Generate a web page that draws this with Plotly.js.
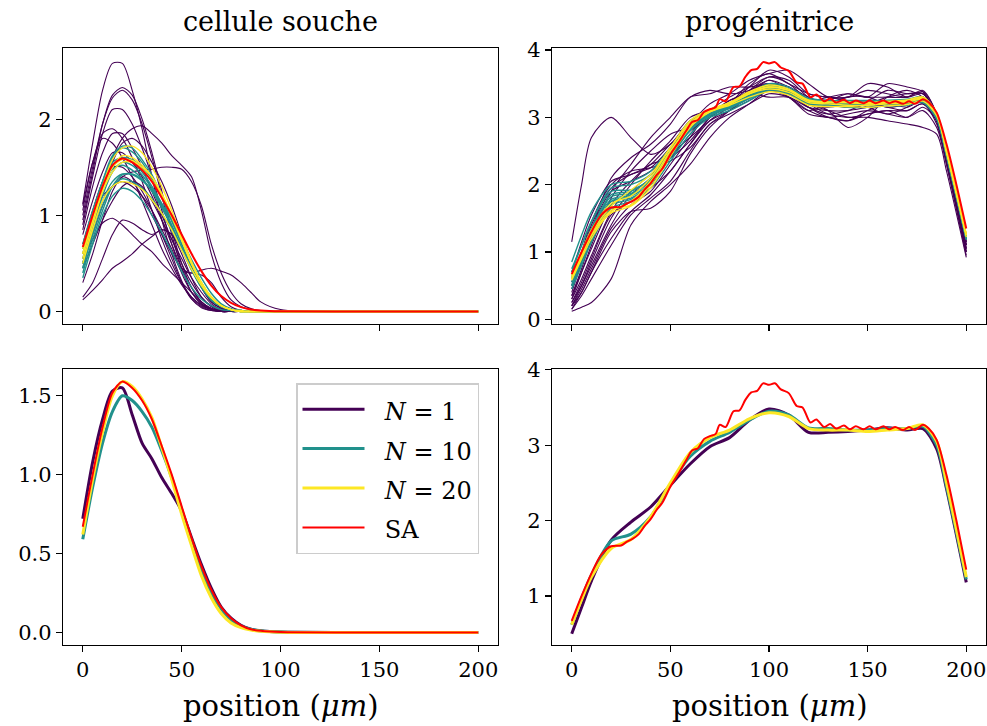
<!DOCTYPE html>
<html>
<head>
<meta charset="utf-8">
<script src="https://cdn.plot.ly/plotly-3.0.1.min.js"></script>
<style>html,body{margin:0;padding:0;background:#fff;}#plot{width:987px;height:726px;}</style>
</head>
<body>
<div id="plot"></div>
<script>
// ---------- x grids ----------
const XL = [0,5,10,15,20,25,30,35,40,45,50,55,60,65,70,75,80,85,90,100,150,200];
const XR = [0,5,10,20,30,40,50,60,70,80,90,100,110,120,130,140,150,160,170,178,185,190,200];
const XS = [0,5,10,15,20,25,28,31,34,37,40,43,46,50,54,58,61,64,67,70,73,75,78,82,85,88,91,94,97,100,103,106,110,114,117,121,124,128,131,134,138,141,144,148,151,154,158,161,164,168,171,174,178,181,185,190,195,200];

// ---------- cellule souche : individual runs N = 1 ----------
const souche_N1 = [
 [1.12,1.75,2.3,2.58,2.58,2.3,1.9,1.4,0.95,0.6,0.32,0.13,0.04,0.01,0,0,0,0,0,0,0,0],
 [0.95,1.45,1.95,2.25,2.33,2.25,2.0,1.65,1.25,0.85,0.5,0.25,0.1,0.03,0.01,0,0,0,0,0,0,0],
 [1.0,1.5,1.95,2.22,2.3,2.2,1.95,1.6,1.2,0.8,0.45,0.2,0.08,0.02,0,0,0,0,0,0,0,0],
 [0.9,1.4,1.85,2.1,2.1,1.95,1.7,1.4,1.05,0.7,0.4,0.2,0.08,0.03,0.01,0,0,0,0,0,0,0],
 [0.6,0.95,1.3,1.6,1.8,1.9,1.93,1.85,1.75,1.62,1.52,1.4,1.05,0.6,0.3,0.12,0.05,0.02,0,0,0,0],
 [0.5,0.85,1.2,1.3,1.4,1.45,1.47,1.48,1.5,1.5,1.48,1.35,1.1,0.7,0.4,0.2,0.08,0.03,0.01,0,0,0],
 [1.05,1.55,1.85,1.9,1.8,1.6,1.35,1.05,0.75,0.5,0.3,0.15,0.06,0.02,0,0,0,0,0,0,0,0],
 [0.85,1.3,1.65,1.85,1.85,1.7,1.5,1.25,1.0,0.75,0.5,0.3,0.15,0.06,0.02,0,0,0,0,0,0,0],
 [1.1,1.55,1.8,1.75,1.6,1.4,1.15,0.9,0.65,0.45,0.28,0.15,0.07,0.02,0,0,0,0,0,0,0,0],
 [0.3,0.6,0.95,1.25,1.4,1.35,1.2,1.0,0.8,0.6,0.45,0.4,0.43,0.45,0.42,0.38,0.3,0.2,0.1,0.02,0,0],
 [0.12,0.22,0.33,0.45,0.52,0.6,0.7,0.78,0.85,0.8,0.65,0.45,0.25,0.1,0.04,0.01,0,0,0,0,0,0],
 [0.15,0.3,0.55,0.8,0.95,0.92,0.85,0.8,0.85,0.8,0.6,0.35,0.15,0.05,0.01,0,0,0,0,0,0,0],
 [0.55,0.75,0.92,0.97,0.9,0.8,0.7,0.62,0.5,0.4,0.3,0.2,0.1,0.03,0,0,0,0,0,0,0,0],
 [0.5,0.8,1.1,1.3,1.35,1.3,1.2,1.05,0.85,0.65,0.42,0.4,0.38,0.3,0.15,0.05,0.01,0,0,0,0,0],
 [0.7,1.05,1.35,1.5,1.5,1.4,1.25,1.05,0.8,0.55,0.3,0.13,0.05,0.01,0,0,0,0,0,0,0,0],
 [0.8,1.15,1.45,1.65,1.65,1.55,1.4,1.2,0.95,0.7,0.45,0.25,0.1,0.03,0,0,0,0,0,0,0,0],
 [0.6,0.95,1.3,1.55,1.75,1.8,1.72,1.55,1.35,1.1,0.8,0.5,0.25,0.1,0.03,0,0,0,0,0,0,0],
 [0.45,0.7,0.95,1.15,1.3,1.35,1.3,1.15,0.95,0.75,0.55,0.35,0.2,0.08,0.02,0,0,0,0,0,0,0]
];
// ---------- cellule souche : runs N = 10 ----------
const souche_N10 = [
 [0.35,0.7,1.0,1.2,1.28,1.25,1.15,1.0,0.82,0.62,0.42,0.25,0.13,0.06,0.02,0.01,0,0,0,0,0,0],
 [0.45,0.85,1.2,1.45,1.55,1.52,1.42,1.28,1.1,0.88,0.65,0.43,0.25,0.12,0.05,0.02,0.01,0,0,0,0,0],
 [0.55,0.95,1.35,1.62,1.72,1.7,1.58,1.42,1.2,0.95,0.7,0.45,0.26,0.12,0.05,0.02,0.01,0,0,0,0,0],
 [0.5,0.9,1.25,1.5,1.6,1.58,1.5,1.38,1.2,0.98,0.74,0.5,0.3,0.15,0.06,0.02,0.01,0,0,0,0,0],
 [0.6,1.0,1.3,1.48,1.52,1.47,1.38,1.25,1.08,0.88,0.66,0.45,0.27,0.14,0.06,0.02,0.01,0,0,0,0,0],
 [0.4,0.75,1.05,1.3,1.42,1.43,1.37,1.25,1.08,0.88,0.66,0.45,0.27,0.13,0.05,0.02,0,0,0,0,0,0],
 [0.7,1.05,1.35,1.55,1.6,1.55,1.45,1.3,1.12,0.9,0.66,0.44,0.25,0.12,0.05,0.02,0,0,0,0,0,0],
 [0.5,0.85,1.15,1.35,1.43,1.42,1.36,1.26,1.12,0.95,0.75,0.54,0.35,0.19,0.08,0.03,0.01,0,0,0,0,0],
 [0.65,1.0,1.35,1.6,1.7,1.66,1.55,1.38,1.18,0.94,0.7,0.47,0.28,0.14,0.06,0.02,0,0,0,0,0,0],
 [0.45,0.8,1.1,1.3,1.38,1.35,1.28,1.17,1.02,0.84,0.64,0.45,0.28,0.14,0.06,0.02,0,0,0,0,0,0]
];
// ---------- cellule souche : runs N = 20 ----------
const souche_N20 = [
 [0.55,0.9,1.25,1.5,1.62,1.6,1.52,1.4,1.22,1.0,0.75,0.5,0.3,0.15,0.06,0.02,0.01,0,0,0,0,0],
 [0.6,0.95,1.3,1.58,1.7,1.72,1.65,1.5,1.3,1.05,0.78,0.52,0.3,0.15,0.06,0.02,0,0,0,0,0,0],
 [0.5,0.85,1.15,1.3,1.35,1.33,1.27,1.16,1.02,0.85,0.64,0.44,0.27,0.14,0.06,0.02,0,0,0,0,0,0],
 [0.6,0.95,1.25,1.45,1.55,1.55,1.48,1.36,1.2,0.98,0.74,0.5,0.3,0.15,0.06,0.02,0,0,0,0,0,0],
 [0.65,1.0,1.3,1.5,1.58,1.57,1.5,1.4,1.22,1.0,0.75,0.5,0.3,0.15,0.06,0.02,0,0,0,0,0,0]
];
// ---------- cellule souche : means & SA ----------
const souche_mean_N1  = [0.72,1.08,1.35,1.53,1.55,1.38,1.2,1.1,0.98,0.88,0.77,0.6,0.43,0.28,0.16,0.09,0.045,0.02,0.01,0.002,0,0];
const souche_mean_N10 = [0.59,0.92,1.2,1.4,1.5,1.47,1.4,1.3,1.15,0.98,0.78,0.58,0.4,0.25,0.15,0.08,0.04,0.02,0.01,0.002,0,0];
const souche_mean_N20 = [0.62,0.97,1.27,1.5,1.59,1.56,1.48,1.36,1.17,0.97,0.75,0.55,0.36,0.22,0.12,0.06,0.03,0.015,0.007,0.001,0,0];
const souche_SA       = [0.67,1.0,1.3,1.52,1.59,1.55,1.47,1.35,1.18,1.0,0.8,0.6,0.42,0.27,0.16,0.09,0.045,0.02,0.01,0.002,0,0];

// ---------- progénitrice : runs N = 1 ----------
const prog_N1 = [
 [1.15,2.0,2.7,3.0,2.7,2.45,2.6,2.95,3.1,3.2,3.4,3.5,3.45,3.3,3.2,3.15,3.2,3.3,3.35,3.35,3.0,2.4,1.1],
 [0.12,0.18,0.25,0.6,1.4,1.75,2.0,2.3,2.7,3.0,3.2,3.4,3.35,3.15,3.05,3.1,3.2,3.15,3.1,3.2,2.9,2.3,1.0],
 [0.15,0.4,0.7,1.3,1.6,1.65,1.9,2.45,2.85,3.1,3.3,3.45,3.4,3.2,3.1,3.0,3.05,3.1,3.0,3.1,2.85,2.3,0.95],
 [0.3,0.7,1.1,1.8,2.2,2.5,2.75,2.85,3.0,3.2,3.5,3.65,3.5,3.35,3.3,3.3,3.4,3.35,3.3,3.38,3.05,2.4,1.05],
 [0.2,0.5,0.85,1.5,1.9,2.15,2.4,2.75,3.1,3.3,3.45,3.6,3.5,3.25,3.1,2.85,3.0,3.3,3.4,3.3,3.0,2.45,1.15],
 [0.35,0.75,1.2,1.9,2.3,2.7,3.0,3.3,3.35,3.45,3.45,3.5,3.3,3.1,3.2,3.3,3.3,3.2,3.25,3.3,2.95,2.4,1.1],
 [0.5,0.95,1.4,1.95,2.15,2.25,2.55,2.9,3.2,3.35,3.55,3.65,3.7,3.5,3.3,3.3,3.5,3.45,3.3,3.35,3.0,2.45,1.2],
 [0.25,0.55,0.9,1.55,1.75,1.95,2.2,2.6,2.95,3.15,3.3,3.4,3.3,3.05,3.0,2.95,3.05,3.1,3.1,3.2,2.95,2.35,1.0],
 [0.2,0.45,0.75,1.35,1.7,1.9,2.3,2.7,3.1,3.2,3.35,3.5,3.4,3.2,3.05,3.0,3.0,2.95,2.9,2.85,2.75,2.2,0.92],
 [0.4,0.85,1.3,2.1,2.4,2.6,2.9,3.3,3.4,3.35,3.4,3.55,3.4,3.2,3.15,3.2,3.25,3.15,3.2,3.3,3.0,2.4,1.15],
 [0.15,0.35,0.6,1.1,1.55,1.8,2.05,2.5,2.9,3.05,3.2,3.35,3.3,3.1,3.0,3.05,3.1,3.05,3.0,3.15,2.95,2.35,1.05],
 [0.3,0.6,0.95,1.6,2.0,2.35,2.65,3.0,3.1,3.15,3.35,3.55,3.45,3.25,3.3,3.35,3.3,3.5,3.45,3.38,3.0,2.4,1.2],
 [0.55,1.0,1.45,2.0,2.2,2.25,2.35,2.55,2.9,3.1,3.3,3.4,3.35,3.15,3.0,2.95,3.1,3.2,3.15,3.25,2.95,2.4,1.1],
 [0.25,0.5,0.8,1.4,1.85,2.1,2.5,2.8,3.0,3.2,3.4,3.6,3.55,3.3,3.2,3.25,3.15,3.05,3.15,3.3,3.0,2.4,1.0],
 [0.7,1.15,1.55,2.05,2.15,2.3,2.6,2.85,3.05,3.25,3.35,3.5,3.45,3.25,3.25,3.35,3.3,3.3,3.3,3.4,3.05,2.45,1.25],
 [0.35,0.7,1.05,1.7,2.05,2.3,2.4,2.65,3.0,3.2,3.45,3.7,3.6,3.35,3.3,3.25,3.25,3.4,3.35,3.35,3.0,2.45,1.15],
 [0.2,0.4,0.7,1.2,1.6,1.85,2.2,2.6,3.0,3.25,3.35,3.3,3.3,3.15,3.1,3.1,3.15,3.2,3.25,3.3,2.95,2.35,1.05],
 [0.45,0.9,1.35,1.9,2.05,2.2,2.45,2.7,2.95,3.1,3.25,3.4,3.35,3.2,3.25,3.2,3.2,3.25,3.2,3.3,3.0,2.4,1.1]
];
// ---------- progénitrice : runs N = 10 ----------
const prog_N10 = [
 [0.85,1.25,1.6,2.0,2.05,2.2,2.55,2.95,3.1,3.2,3.35,3.5,3.42,3.28,3.25,3.25,3.25,3.25,3.27,3.3,3.05,2.5,1.25],
 [0.5,0.85,1.15,1.65,1.75,1.95,2.35,2.75,3.0,3.1,3.25,3.4,3.35,3.2,3.18,3.15,3.15,3.17,3.18,3.22,2.98,2.42,1.18],
 [0.65,1.0,1.35,1.85,1.9,2.1,2.5,2.9,3.08,3.18,3.32,3.47,3.42,3.27,3.24,3.22,3.22,3.24,3.24,3.27,3.02,2.47,1.22],
 [0.55,0.9,1.25,1.75,1.8,2.0,2.42,2.82,3.03,3.13,3.28,3.43,3.38,3.23,3.2,3.18,3.18,3.2,3.2,3.23,2.98,2.43,1.2],
 [0.7,1.1,1.45,1.95,2.0,2.15,2.5,2.88,3.05,3.15,3.3,3.45,3.4,3.27,3.25,3.23,3.22,3.22,3.23,3.25,3.0,2.45,1.2],
 [0.45,0.8,1.15,1.7,1.78,2.0,2.4,2.8,3.02,3.14,3.3,3.45,3.4,3.24,3.2,3.2,3.2,3.2,3.2,3.24,3.0,2.45,1.22],
 [0.6,0.97,1.32,1.82,1.87,2.05,2.45,2.85,3.05,3.17,3.33,3.5,3.45,3.28,3.25,3.22,3.22,3.25,3.25,3.28,3.02,2.47,1.23],
 [0.75,1.1,1.45,1.9,1.92,2.08,2.48,2.85,3.05,3.15,3.28,3.4,3.35,3.2,3.18,3.18,3.18,3.2,3.2,3.22,2.98,2.43,1.19],
 [0.5,0.88,1.22,1.75,1.83,2.03,2.45,2.86,3.07,3.17,3.32,3.47,3.42,3.26,3.22,3.2,3.2,3.2,3.22,3.25,3.0,2.45,1.2],
 [0.62,0.98,1.33,1.78,1.85,2.07,2.48,2.87,3.06,3.16,3.3,3.42,3.37,3.22,3.2,3.2,3.21,3.23,3.23,3.26,3.01,2.46,1.21]
];
// ---------- progénitrice : runs N = 20 ----------
const prog_N20 = [
 [0.6,0.93,1.25,1.58,1.68,1.95,2.42,2.85,3.08,3.2,3.35,3.45,3.4,3.25,3.22,3.22,3.2,3.22,3.25,3.3,3.07,2.52,1.27],
 [0.65,1.0,1.33,1.72,1.83,2.1,2.55,2.95,3.12,3.22,3.37,3.45,3.4,3.24,3.22,3.22,3.2,3.22,3.24,3.28,3.05,2.5,1.25],
 [0.58,0.9,1.2,1.6,1.75,2.05,2.5,2.88,3.08,3.18,3.3,3.38,3.33,3.18,3.16,3.16,3.15,3.17,3.19,3.24,3.02,2.47,1.22],
 [0.63,0.97,1.28,1.68,1.92,2.15,2.55,2.92,3.1,3.2,3.35,3.42,3.37,3.22,3.2,3.18,3.18,3.2,3.22,3.27,3.05,2.5,1.25],
 [0.6,0.95,1.25,1.62,1.7,2.0,2.47,2.9,3.1,3.22,3.38,3.48,3.42,3.26,3.23,3.23,3.22,3.24,3.26,3.3,3.06,2.5,1.26]
];
// ---------- progénitrice : means & SA ----------
const prog_mean_N1  = [0.5,0.85,1.2,1.74,1.98,2.18,2.47,2.75,2.98,3.1,3.33,3.48,3.4,3.17,3.17,3.18,3.2,3.23,3.2,3.22,2.95,2.42,1.18];
const prog_mean_N10 = [0.62,0.97,1.28,1.73,1.82,2.05,2.48,2.85,3.05,3.17,3.33,3.45,3.4,3.23,3.22,3.2,3.2,3.22,3.22,3.25,3.0,2.45,1.22];
const prog_mean_N20 = [0.62,0.95,1.25,1.63,1.75,2.05,2.5,2.9,3.1,3.2,3.35,3.43,3.38,3.22,3.2,3.2,3.18,3.2,3.22,3.27,3.05,2.5,1.25];
const prog_SA = [0.67,1.0,1.3,1.55,1.66,1.67,1.72,1.76,1.82,1.93,2.02,2.14,2.24,2.45,2.62,2.8,2.93,2.96,3.08,3.12,3.15,3.27,3.24,3.45,3.46,3.6,3.7,3.72,3.82,3.8,3.82,3.74,3.69,3.52,3.5,3.3,3.34,3.24,3.28,3.22,3.26,3.21,3.25,3.21,3.25,3.21,3.25,3.21,3.24,3.2,3.24,3.2,3.27,3.22,3.07,2.6,2.0,1.35];

// ---------- labels ----------
const subplotTitles = ['cellule souche', 'progénitrice'];
const xTitle = 'position (<i>μm</i>)';
const NB = '\u00a0';
const legendNames = ['<i>N</i>' + NB + '=' + NB + '1', '<i>N</i>' + NB + '=' + NB + '10',
                     '<i>N</i>' + NB + '=' + NB + '20', 'SA'];
const xTickVals = [0, 50, 100, 150, 200];

// ---------- styling ----------
const C1 = '#440154', C10 = '#21918c', C20 = '#fde725', CSA = '#ff0000';
const FONT = "DejaVu Serif, serif";
const legendLabel = s => '<span style="font-size:24px">' + NB + NB + s + '</span>';

const traces = [];
function addGroup(xs, list, color, width, xa, ya) {
  list.forEach(ys => traces.push({x: xs, y: ys, xaxis: xa, yaxis: ya, type: 'scatter', mode: 'lines',
    line: {color: color, width: width, shape: 'spline', smoothing: 0.8}, showlegend: false, hoverinfo: 'skip'}));
}
// top-left
addGroup(XL, souche_N1, C1, 1.1, 'x', 'y');
addGroup(XL, souche_N10, C10, 1.4, 'x', 'y');
addGroup(XL, souche_N20, C20, 1.4, 'x', 'y');
addGroup(XL, [souche_SA], CSA, 2, 'x', 'y');
// top-right
addGroup(XR, prog_N1, C1, 1.1, 'x2', 'y2');
addGroup(XR, prog_N10, C10, 1.4, 'x2', 'y2');
addGroup(XR, prog_N20, C20, 1.4, 'x2', 'y2');
addGroup(XS, [prog_SA], CSA, 2, 'x2', 'y2');
// bottom-left (legend)
[[souche_mean_N1, C1, 3], [souche_mean_N10, C10, 3], [souche_mean_N20, C20, 3], [souche_SA, CSA, 2]].forEach((d, i) => {
  traces.push({x: XL, y: d[0], xaxis: 'x3', yaxis: 'y3', type: 'scatter', mode: 'lines', name: legendLabel(legendNames[i]),
    line: {color: d[1], width: d[2], shape: 'spline', smoothing: 0.8}, showlegend: true});
});
// bottom-right
[[XR, prog_mean_N1, C1, 3], [XR, prog_mean_N10, C10, 3], [XR, prog_mean_N20, C20, 3], [XS, prog_SA, CSA, 2]].forEach(d => {
  traces.push({x: d[0], y: d[1], xaxis: 'x4', yaxis: 'y4', type: 'scatter', mode: 'lines',
    line: {color: d[2], width: d[3], shape: 'spline', smoothing: 0.8}, showlegend: false});
});

const W = 987, H = 726;
const dxL = [63 / W, 498 / W], dxR = [552 / W, 986 / W];
const dyT = [1 - 324 / H, 1 - 48 / H], dyB = [1 - 645 / H, 1 - 369 / H];
function ax(domain, range, extra) {
  return Object.assign({domain: domain, range: range, showline: true, mirror: true, linecolor: '#000', linewidth: 1.2,
    ticks: 'outside', ticklen: 6, tickwidth: 1.2, tickcolor: '#000', showgrid: false, zeroline: false,
    tickfont: {family: FONT, size: 21, color: '#000'}}, extra || {});
}
const layout = {
  width: W, height: H, margin: {l: 0, r: 0, t: 0, b: 0}, paper_bgcolor: '#fff', plot_bgcolor: '#fff',
  font: {family: FONT, color: '#000'},
  xaxis:  ax(dxL, [-10, 210], {anchor: 'y',  tickvals: xTickVals, showticklabels: false}),
  yaxis:  ax(dyT, [-0.13, 2.74], {anchor: 'x', tickvals: [0, 1, 2]}),
  xaxis2: ax(dxR, [-10, 210], {anchor: 'y2', tickvals: xTickVals, showticklabels: false}),
  yaxis2: ax(dyT, [-0.07, 4.03], {anchor: 'x2', tickvals: [0, 1, 2, 3, 4]}),
  xaxis3: ax(dxL, [-10, 210], {anchor: 'y3', tickvals: xTickVals}),
  yaxis3: ax(dyB, [-0.08, 1.67], {anchor: 'x3', tickvals: [0, 0.5, 1, 1.5], tickformat: '.1f'}),
  xaxis4: ax(dxR, [-10, 210], {anchor: 'y4', tickvals: xTickVals}),
  yaxis4: ax(dyB, [0.35, 4.01], {anchor: 'x4', tickvals: [1, 2, 3, 4]}),
  showlegend: true,
  legend: {x: 296 / W, y: 1 - 383 / H, xanchor: 'left', yanchor: 'top', bgcolor: 'rgba(255,255,255,0.85)',
    bordercolor: '#cccccc', borderwidth: 1.5, font: {family: FONT, size: 28, color: '#000'}, itemwidth: 62,
    tracegroupgap: 0},
  annotations: [
    {text: subplotTitles[0], xref: 'paper', yref: 'paper', x: (dxL[0] + dxL[1]) / 2, y: 1 - 22 / H, showarrow: false,
      xanchor: 'center', yanchor: 'middle', font: {family: FONT, size: 27}},
    {text: subplotTitles[1], xref: 'paper', yref: 'paper', x: (dxR[0] + dxR[1]) / 2, y: 1 - 22 / H, showarrow: false,
      xanchor: 'center', yanchor: 'middle', font: {family: FONT, size: 27}},
    {text: xTitle, xref: 'paper', yref: 'paper', x: (dxL[0] + dxL[1]) / 2, y: 1 - 706 / H, showarrow: false,
      xanchor: 'center', yanchor: 'middle', font: {family: FONT, size: 29}},
    {text: xTitle, xref: 'paper', yref: 'paper', x: (dxR[0] + dxR[1]) / 2, y: 1 - 706 / H, showarrow: false,
      xanchor: 'center', yanchor: 'middle', font: {family: FONT, size: 29}}
  ]
};
Plotly.newPlot('plot', traces, layout, {displayModeBar: false, staticPlot: true});
</script>
</body>
</html>
